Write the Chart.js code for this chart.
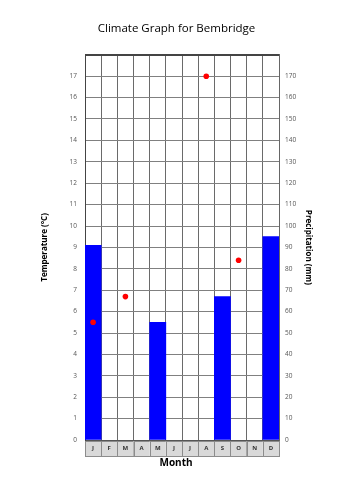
<!DOCTYPE html>
<html>
<head>
<meta charset="utf-8">
<script src="https://cdn.jsdelivr.net/npm/chart.js@4/dist/chart.umd.min.js"></script>
<style>
html,body{margin:0;padding:0;background:#fff;}
#wrap{width:353px;height:500px;}
</style>
</head>
<body>
<div id="wrap"><canvas id="c" width="353" height="500"></canvas></div>
<script>
const months = ['J','F','M','A','M','J','J','A','S','O','N','D'];
const precipitation = [91, null, null, null, 55, null, null, null, 67, null, null, 95];
const temperature = [5.5, null, 6.7, null, null, null, null, 17, null, 8.4, null, null];
const tempTicks = {min: 0, max: 18, step: 1};
const precipTicks = {min: 0, max: 180, step: 10};
const xAxisTitle = 'Month';

const FONT = "'Open Sans', 'Liberation Sans', sans-serif";

const monthBoxes = {
  id: 'monthBoxes',
  beforeDraw(chart) {
    const x = chart.scales.x;
    const ctx = chart.ctx;
    const area = chart.chartArea;
    const n = months.length;
    const w = (area.right - area.left) / n;
    ctx.save();
    for (let i = 0; i < n; i++) {
      const cx = x.getPixelForValue(i);
      const l = cx - w / 2;
      ctx.fillStyle = '#d9d9d9';
      ctx.fillRect(l, area.bottom + 1, w, 15);
      ctx.strokeStyle = '#8c8c8c';
      ctx.lineWidth = 1;
      ctx.strokeRect(Math.round(l) + 0.5, area.bottom + 1.5, Math.round(w), 15);
    }
    ctx.restore();
  },
  afterDraw(chart) {
    const ctx = chart.ctx;
    const area = chart.chartArea;
    ctx.save();
    ctx.fillStyle = '#000';
    ctx.font = "bold 10px " + FONT;
    ctx.textAlign = 'center';
    ctx.textBaseline = 'middle';
    ctx.fillText(xAxisTitle, (area.left + area.right) / 2 - 6, area.bottom + 23);
    ctx.restore();
  }
};

new Chart(document.getElementById('c'), {
  data: {
    labels: months,
    datasets: [
      {
        type: 'line',
        label: 'Temperature',
        data: temperature,
        yAxisID: 'yTemp',
        showLine: false,
        pointRadius: 2.8,
        pointBackgroundColor: '#ff0000',
        pointBorderWidth: 0,
        order: 0
      },
      {
        type: 'bar',
        label: 'Precipitation',
        data: precipitation,
        yAxisID: 'yPrecip',
        backgroundColor: '#0000ff',
        borderWidth: 0,
        barPercentage: 1,
        categoryPercentage: 1,
        order: 1
      }
    ]
  },
  options: {
    responsive: false,
    animation: false,
    layout: {padding: 0},
    plugins: {
      legend: {display: false},
      tooltip: {enabled: false},
      title: {
        display: true,
        text: 'Climate Graph for Bembridge',
        color: '#000',
        font: {family: FONT, size: 11.5, weight: 'normal'},
        padding: {top: 22, bottom: 19}
      }
    },
    scales: {
      x: {
        offset: true,
        grid: {
          offset: true,
          color: '#6a6a6a',
          lineWidth: 1,
          drawTicks: false
        },
        border: {display: true, color: '#555'},
        ticks: {
          color: '#333',
          font: {family: FONT, size: 6, weight: 'bold'},
          padding: 5,
          maxRotation: 0,
          autoSkip: false
        },
        title: {display: false},
        afterFit(s) { s.height = 60; }
      },
      yTemp: {
        position: 'left',
        min: tempTicks.min,
        max: tempTicks.max,
        ticks: {
          stepSize: tempTicks.step,
          color: '#555',
          font: {family: FONT, size: 6.5},
          padding: 8,
          callback: v => (v === tempTicks.max ? '' : v)
        },
        grid: {
          color: ctx => (ctx.tick && ctx.tick.value === tempTicks.max ? '#444' : '#808080'),
          lineWidth: ctx => (ctx.tick && ctx.tick.value === tempTicks.max ? 2 : 1),
          drawTicks: false
        },
        border: {display: true, color: '#444'},
        title: {
          display: true,
          text: 'Temperature (°C)',
          color: '#000',
          font: {family: FONT, size: 8, weight: 'bold'},
          padding: {top: 40, bottom: 0}
        },
        afterFit(s) { s.width = 85; }
      },
      yPrecip: {
        position: 'right',
        min: precipTicks.min,
        max: precipTicks.max,
        ticks: {
          stepSize: precipTicks.step,
          color: '#555',
          font: {family: FONT, size: 6.5},
          padding: 6,
          callback: v => (v === precipTicks.max ? '' : v)
        },
        grid: {drawOnChartArea: false, drawTicks: false},
        border: {display: true, color: '#666'},
        title: {
          display: true,
          text: 'Precipitation (mm)',
          color: '#000',
          font: {family: FONT, size: 8, weight: 'bold'},
          padding: {top: 40, bottom: 0}
        },
        afterFit(s) { s.width = 74; }
      }
    }
  },
  plugins: [monthBoxes]
});
</script>
</body>
</html>
